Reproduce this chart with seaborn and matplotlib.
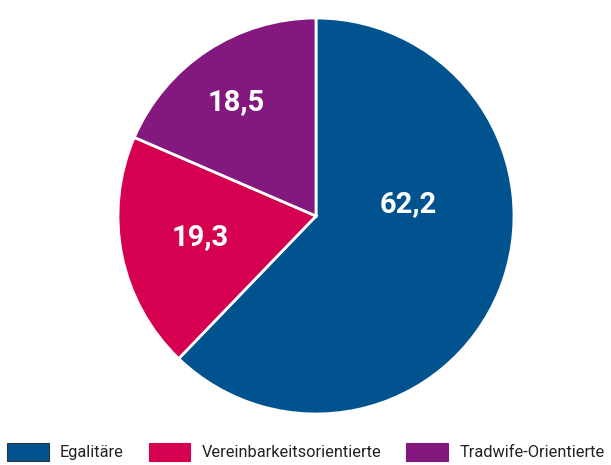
import matplotlib
matplotlib.use("Agg")
import matplotlib.pyplot as plt
import seaborn as sns

categories = ["Egalitäre", "Vereinbarkeitsorientierte", "Tradwife-Orientierte"]
values = [62.2, 19.3, 18.5]
value_labels = ["62,2", "19,3", "18,5"]
colors = ["#00538F", "#D5004F", "#83197E"]

sns.set_theme(style="white")
plt.rcParams['font.family'] = ['Roboto', 'DejaVu Sans']

fig = plt.figure(figsize=(6.11, 4.65), dpi=100)
ax = fig.add_axes([(316 - 200) / 611, (249 - 200) / 465, 400 / 611, 400 / 465])

wedges, _ = ax.pie(values, colors=sns.color_palette(colors), startangle=90, counterclock=False,
                   radius=0.99, wedgeprops=dict(edgecolor="white", linewidth=2))
ax.set_xlim(-1, 1)
ax.set_ylim(-1, 1)
ax.set_aspect("equal")
ax.axis("off")

# label spots
label_pos = [(0.46, 0.06), (-0.58, -0.105), (-0.40, 0.57)]
for (x, y), t in zip(label_pos, value_labels):
    ax.text(x, y, t, ha="center", va="center", color="white", fontsize=21, fontweight="bold")

handles = [plt.Rectangle((0, 0), 1, 1, facecolor=c, edgecolor="#333333" if i == 0 else c, linewidth=0.8)
           for i, c in enumerate(colors)]
fig.legend(handles, categories, loc="lower left", bbox_to_anchor=(-0.005, -0.012), ncol=3, frameon=False,
           fontsize=11.8, handlelength=2.55, handleheight=1.3, handletextpad=0.7, columnspacing=1.5,
           borderaxespad=0.2, labelcolor="#222222")

fig.savefig("out.png", dpi=100)
